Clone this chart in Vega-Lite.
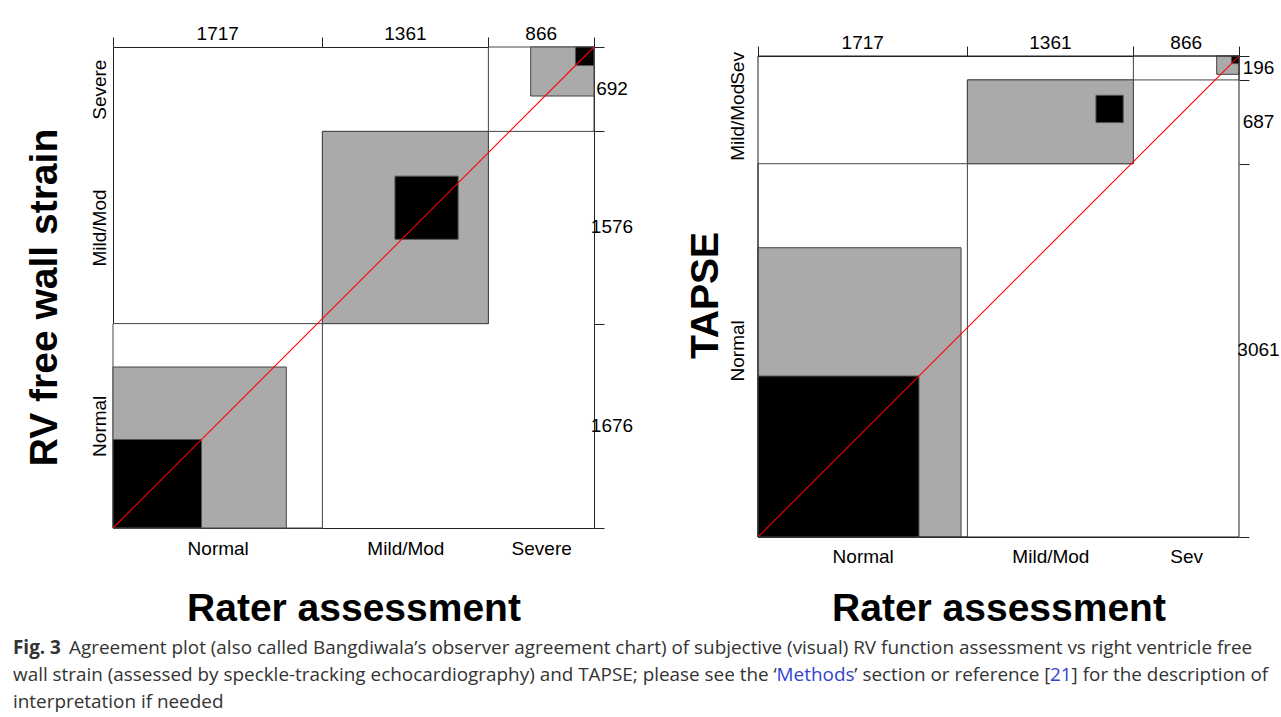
{
  "$schema": "https://vega.github.io/schema/vega-lite/v6.json",
  "background": "white",
  "padding": {"left": 13, "top": 25, "right": 0, "bottom": 0},
  "config": {
    "view": {"stroke": null},
    "font": "Liberation Sans",
    "axis": {
      "labelFont": "Liberation Sans", "labelFontSize": 19, "labelColor": "black",
      "titleFont": "Liberation Sans", "titleFontSize": 39, "titleFontWeight": "bold", "titleColor": "black",
      "domainColor": "#222", "tickColor": "#222", "grid": false, "zindex": 1
    },
    "text": {"font": "Liberation Sans", "fontSize": 19, "color": "black"}
  },
  "datasets": {
    "frames1": [
      {"cat": "Normal", "x0": 0, "x1": 1717, "y0": 0, "y1": 1676},
      {"cat": "Mild/Mod", "x0": 1717, "x1": 3078, "y0": 1676, "y1": 3252},
      {"cat": "Severe", "x0": 3078, "x1": 3944, "y0": 3252, "y1": 3944}
    ],
    "gray1": [
      {"cat": "Normal", "x0": 0, "x1": 1421, "y0": 0, "y1": 1320},
      {"cat": "Mild/Mod", "x0": 1717, "x1": 3078, "y0": 1676, "y1": 3252},
      {"cat": "Severe", "x0": 3425, "x1": 3944, "y0": 3542, "y1": 3944}
    ],
    "black1": [
      {"cat": "Normal", "x0": 0, "x1": 726, "y0": 0, "y1": 726},
      {"cat": "Mild/Mod", "x0": 2312, "x1": 2830, "y0": 2367, "y1": 2885},
      {"cat": "Severe", "x0": 3792, "x1": 3944, "y0": 3792, "y1": 3944}
    ],
    "cols1": [
      {"cat": "Normal", "n": 1717, "mid": 858.5},
      {"cat": "Mild/Mod", "n": 1361, "mid": 2397.5},
      {"cat": "Severe", "n": 866, "mid": 3511}
    ],
    "rows1": [
      {"cat": "Normal", "n": 1676, "mid": 838},
      {"cat": "Mild/Mod", "n": 1576, "mid": 2464},
      {"cat": "Severe", "n": 692, "mid": 3598}
    ],
    "frames2": [
      {"cat": "Normal", "x0": 0, "x1": 1717, "y0": 0, "y1": 3061},
      {"cat": "Mild/Mod", "x0": 1717, "x1": 3078, "y0": 3061, "y1": 3748},
      {"cat": "Sev", "x0": 3078, "x1": 3944, "y0": 3748, "y1": 3944}
    ],
    "gray2": [
      {"cat": "Normal", "x0": 0, "x1": 1665, "y0": 0, "y1": 2372},
      {"cat": "Mild/Mod", "x0": 1717, "x1": 3078, "y0": 3061, "y1": 3748},
      {"cat": "Sev", "x0": 3761, "x1": 3944, "y0": 3794, "y1": 3944}
    ],
    "black2": [
      {"cat": "Normal", "x0": 0, "x1": 1320, "y0": 0, "y1": 1320},
      {"cat": "Mild/Mod", "x0": 2771, "x1": 2995, "y0": 3398, "y1": 3622},
      {"cat": "Sev", "x0": 3882, "x1": 3944, "y0": 3882, "y1": 3944}
    ],
    "cols2": [
      {"cat": "Normal", "n": 1717, "mid": 858.5},
      {"cat": "Mild/Mod", "n": 1361, "mid": 2397.5},
      {"cat": "Sev", "n": 866, "mid": 3511}
    ],
    "rows2": [
      {"cat": "Normal", "n": 3061, "mid": 1530.5},
      {"cat": "Mild/Mod", "n": 687, "mid": 3404.5},
      {"cat": "Sev", "n": 196, "mid": 3846}
    ],
    "diag": [{"x0": 0, "y0": 0, "x1": 3944, "y1": 3944}],
    "capA": [{"line": 1, "text": "Fig. 3"}],
    "capB": [{"line": 1, "text": "Agreement plot (also called Bangdiwala’s observer agreement chart) of subjective (visual) RV function assessment vs right ventricle free"}],
    "capC": [
      {"line": 2, "text": "wall strain (assessed by speckle-tracking echocardiography) and TAPSE; please see the ‘"},
      {"line": 3, "text": "interpretation if needed"}
    ],
    "capD": [{"line": 2, "text": "Methods"}],
    "capE": [{"line": 2, "text": "’ section or reference ["}],
    "capF": [{"line": 2, "text": "21"}],
    "capG": [{"line": 2, "text": "] for the description of"}]
  },
  "spacing": 6,
  "vconcat": [
    {
      "spacing": 52,
      "hconcat": [
        {
          "width": 481, "height": 481,
          "resolve": {"axis": {"x": "independent", "y": "independent"}},
          "layer": [
            {
              "data": {"name": "frames1"},
              "mark": {"type": "rect", "fill": "white", "stroke": "#444", "strokeWidth": 1},
              "encoding": {
                "x": {"field": "x0", "type": "quantitative", "scale": {"domain": [0, 3944], "nice": false, "zero": false},
                      "axis": {"orient": "top", "values": [0, 1717, 3078, 3944], "labels": false, "tickSize": 10, "domain": true, "title": null}},
                "x2": {"field": "x1"},
                "y": {"field": "y0", "type": "quantitative", "scale": {"domain": [0, 3944], "nice": false, "zero": false},
                      "axis": {"orient": "right", "values": [0, 1676, 3252, 3944], "labels": false, "tickSize": 10, "domain": true, "title": null}},
                "y2": {"field": "y1"}
              }
            },
            {
              "data": {"name": "gray1"},
              "mark": {"type": "rect", "fill": "#aaaaaa", "stroke": "#444", "strokeWidth": 1},
              "encoding": {
                "x": {"field": "x0", "type": "quantitative", "axis": null},
                "x2": {"field": "x1"},
                "y": {"field": "y0", "type": "quantitative", "axis": null},
                "y2": {"field": "y1"}
              }
            },
            {
              "data": {"name": "black1"},
              "mark": {"type": "rect", "fill": "black", "stroke": "#555", "strokeWidth": 1},
              "encoding": {
                "x": {"field": "x0", "type": "quantitative", "axis": null},
                "x2": {"field": "x1"},
                "y": {"field": "y0", "type": "quantitative", "axis": null},
                "y2": {"field": "y1"}
              }
            },
            {
              "data": {"name": "diag"},
              "mark": {"type": "rule", "strokeWidth": 1.1},
              "encoding": {
                "x": {"field": "x0", "type": "quantitative", "axis": null},
                "x2": {"field": "x1"},
                "y": {"field": "y0", "type": "quantitative", "axis": null},
                "y2": {"field": "y1"},
                "color": {"value": "#ff0000"}
              }
            },
            {
              "data": {"name": "cols1"},
              "mark": {"type": "text", "baseline": "alphabetic", "align": "center", "dy": -7},
              "encoding": {
                "x": {"field": "mid", "type": "quantitative",
                      "axis": {"orient": "bottom", "values": [858.5, 2397.5, 3511], "labelExpr": "datum.value < 1717 ? 'Normal' : datum.value < 3078 ? 'Mild/Mod' : 'Severe'", "ticks": false, "domain": true, "labelPadding": 11, "title": "Rater assessment", "titlePadding": 31}},
                "y": {"datum": 3944, "type": "quantitative", "axis": null},
                "text": {"field": "n"}
              }
            },
            {
              "data": {"name": "rows1"},
              "mark": {"type": "text", "baseline": "middle", "align": "center", "dx": 18},
              "encoding": {
                "x": {"datum": 3944, "type": "quantitative", "axis": null},
                "y": {"field": "mid", "type": "quantitative",
                      "axis": {"orient": "left", "values": [838, 2464, 3598], "labelExpr": "datum.value < 1676 ? 'Normal' : datum.value < 3252 ? 'Mild/Mod' : 'Severe'", "labelAngle": 270, "labelAlign": "center", "labelBaseline": "bottom", "labelOverlap": false, "ticks": false, "domain": true, "labelPadding": 4, "title": "RV free wall strain", "titlePadding": 26, "titleY": 250}},
                "text": {"field": "n"}
              }
            }
          ]
        },
        {
          "width": 481, "height": 490,
          "resolve": {"axis": {"x": "independent", "y": "independent"}},
          "layer": [
            {
              "data": {"name": "frames2"},
              "mark": {"type": "rect", "fill": "white", "stroke": "#444", "strokeWidth": 1},
              "encoding": {
                "x": {"field": "x0", "type": "quantitative", "scale": {"domain": [0, 3944], "nice": false, "zero": false},
                      "axis": {"orient": "top", "offset": -9, "values": [0, 1717, 3078, 3944], "labels": false, "tickSize": 10, "domain": true, "title": null}},
                "x2": {"field": "x1"},
                "y": {"field": "y0", "type": "quantitative", "scale": {"domain": [0, 4018], "nice": false, "zero": false},
                      "axis": {"orient": "right", "values": [0, 3061, 3748, 3944], "labels": false, "tickSize": 10, "domain": false, "title": null}},
                "y2": {"field": "y1"}
              }
            },
            {
              "data": {"name": "gray2"},
              "mark": {"type": "rect", "fill": "#aaaaaa", "stroke": "#444", "strokeWidth": 1},
              "encoding": {
                "x": {"field": "x0", "type": "quantitative", "axis": null},
                "x2": {"field": "x1"},
                "y": {"field": "y0", "type": "quantitative", "axis": null},
                "y2": {"field": "y1"}
              }
            },
            {
              "data": {"name": "black2"},
              "mark": {"type": "rect", "fill": "black", "stroke": "#555", "strokeWidth": 1},
              "encoding": {
                "x": {"field": "x0", "type": "quantitative", "axis": null},
                "x2": {"field": "x1"},
                "y": {"field": "y0", "type": "quantitative", "axis": null},
                "y2": {"field": "y1"}
              }
            },
            {
              "data": {"name": "diag"},
              "mark": {"type": "rule", "strokeWidth": 1.1},
              "encoding": {
                "x": {"field": "x0", "type": "quantitative", "axis": null},
                "x2": {"field": "x1"},
                "y": {"field": "y0", "type": "quantitative", "axis": null},
                "y2": {"field": "y1"},
                "color": {"value": "#ff0000"}
              }
            },
            {
              "data": {"name": "diag"},
              "mark": {"type": "rect", "fill": "white", "fillOpacity": 0, "stroke": "#222", "strokeWidth": 1},
              "encoding": {
                "x": {"field": "x0", "type": "quantitative", "axis": null},
                "x2": {"field": "x1"},
                "y": {"field": "y0", "type": "quantitative", "axis": null},
                "y2": {"field": "y1"}
              }
            },
            {
              "data": {"name": "cols2"},
              "mark": {"type": "text", "baseline": "alphabetic", "align": "center", "dy": -7},
              "encoding": {
                "x": {"field": "mid", "type": "quantitative",
                      "axis": {"orient": "bottom", "values": [858.5, 2397.5, 3511], "labelExpr": "datum.value < 1717 ? 'Normal' : datum.value < 3078 ? 'Mild/Mod' : 'Sev'", "ticks": false, "domain": true, "labelPadding": 10, "title": "Rater assessment", "titlePadding": 23}},
                "y": {"datum": 3944, "type": "quantitative", "axis": null},
                "text": {"field": "n"}
              }
            },
            {
              "data": {"name": "rows2"},
              "mark": {"type": "text", "baseline": "middle", "align": "center", "dx": 19.5},
              "encoding": {
                "x": {"datum": 3944, "type": "quantitative", "axis": null},
                "y": {"field": "mid", "type": "quantitative",
                      "axis": {"orient": "left", "values": [1530.5, 3404.5, 3846], "labelExpr": "datum.value < 3061 ? 'Normal' : datum.value < 3748 ? 'Mild/Mod' : 'Sev'", "labelAngle": 270, "labelAlign": "center", "labelBaseline": "bottom", "labelOverlap": false, "ticks": false, "domain": false, "labelPadding": 11, "title": "TAPSE", "titlePadding": 3, "titleY": 248}},
                "text": {"field": "n"}
              }
            }
          ]
        }
      ]
    },
    {
      "width": 1150, "height": 81,
      "encoding": {
        "x": {"datum": 0, "type": "quantitative", "scale": {"domain": [0, 1]}, "axis": null},
        "y": {"field": "line", "type": "ordinal", "axis": null},
        "text": {"field": "text"}
      },
      "layer": [
        {
          "data": {"name": "capA"},
          "mark": {"type": "text", "align": "left", "baseline": "middle", "dx": -100, "font": "Open Sans", "fontSize": 18.9, "fontWeight": "bold", "color": "#333"}
        },
        {
          "data": {"name": "capB"},
          "mark": {"type": "text", "align": "left", "baseline": "middle", "dx": -44, "font": "Open Sans", "fontSize": 18.9, "color": "#333"}
        },
        {
          "data": {"name": "capC"},
          "mark": {"type": "text", "align": "left", "baseline": "middle", "dx": -100, "font": "Open Sans", "fontSize": 18.9, "color": "#333"}
        },
        {
          "data": {"name": "capD"},
          "mark": {"type": "text", "align": "left", "baseline": "middle", "dx": 663.6, "font": "Open Sans", "fontSize": 18.9, "color": "#3344cc"}
        },
        {
          "data": {"name": "capE"},
          "mark": {"type": "text", "align": "left", "baseline": "middle", "dx": 741.3, "font": "Open Sans", "fontSize": 18.9, "color": "#333"}
        },
        {
          "data": {"name": "capF"},
          "mark": {"type": "text", "align": "left", "baseline": "middle", "dx": 937.0, "font": "Open Sans", "fontSize": 18.9, "color": "#3344cc"}
        },
        {
          "data": {"name": "capG"},
          "mark": {"type": "text", "align": "left", "baseline": "middle", "dx": 958.6, "font": "Open Sans", "fontSize": 18.9, "color": "#333"}
        }
      ]
    }
  ]
}
